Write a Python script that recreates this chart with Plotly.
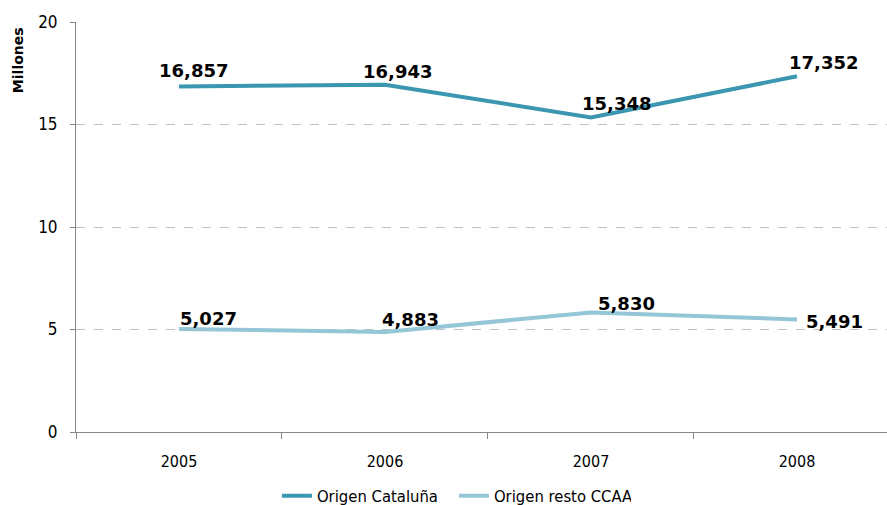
import plotly.graph_objects as go

years = ["2005", "2006", "2007", "2008"]
cataluna = [16.857, 16.943, 15.348, 17.352]
resto = [5.027, 4.883, 5.830, 5.491]
cat_labels = ["16,857", "16,943", "15,348", "17,352"]
resto_labels = ["5,027", "4,883", "5,830", "5,491"]
yticks = [0, 5, 10, 15, 20]

c1 = "#3B97B0"
c2 = "#94C6D8"
narrow = "Liberation Sans Narrow, DejaVu Sans Condensed, sans-serif"

fig = go.Figure()
fig.add_trace(go.Scatter(x=years, y=cataluna, mode="lines", name="Origen Cataluña",
                         line=dict(color=c1, width=4)))
fig.add_trace(go.Scatter(x=years, y=resto, mode="lines", name="Origen resto CCAA",
                         line=dict(color=c2, width=4)))

lab_font = dict(family="DejaVu Sans", size=18, color="#000000")
cat_shift = [(14, 16), (13, 13), (26, 14), (27, 14)]
resto_shift = [(29, 10), (26, 12), (36, 9), (38, -2)]
for i in range(len(years)):
    fig.add_annotation(x=i, y=cataluna[i], text="<b>" + cat_labels[i] + "</b>", showarrow=False,
                       xref="x", yref="y",
                       xshift=cat_shift[i][0], yshift=cat_shift[i][1], font=lab_font)
    fig.add_annotation(x=i, y=resto[i], text="<b>" + resto_labels[i] + "</b>", showarrow=False,
                       xref="x", yref="y",
                       xshift=resto_shift[i][0], yshift=resto_shift[i][1], font=lab_font)

fig.add_annotation(xref="paper", yref="paper", x=-0.0715, y=0.907, xanchor="center", yanchor="middle",
                   text="<b>Millones</b>", textangle=-90, showarrow=False,
                   font=dict(family="DejaVu Sans", size=14, color="#000"))

fig.update_layout(
    width=887, height=505,
    margin=dict(l=76, r=0, t=22, b=73, autoexpand=False),
    plot_bgcolor="white", paper_bgcolor="white",
    font=dict(family=narrow, size=16, color="#000"),
    showlegend=True,
    legend=dict(orientation="h", x=0.466, xanchor="center", y=-0.156, yanchor="middle",
                font=dict(family=narrow, size=16.5, color="#000"),
                itemwidth=30, tracegroupgap=0, entrywidth=132),
    xaxis=dict(type="category", range=[-0.5, 3.437], showgrid=False,
               showline=True, linecolor="#868686", linewidth=1,
               ticks="outside", tickson="boundaries", ticklen=6, tickcolor="#868686",
               ticklabelstandoff=15,
               tickfont=dict(family=narrow, size=16)),
    yaxis=dict(range=[0, 20], tickvals=yticks, showgrid=True, gridcolor="#BFBFBF",
               griddash="dash", gridwidth=1, zeroline=False,
               showline=True, linecolor="#868686", linewidth=1,
               ticks="outside", ticklen=5, tickcolor="#868686",
               ticklabelstandoff=9,
               tickfont=dict(family=narrow, size=17)),
)

fig.write_html("out.html", config={"displayModeBar": False},
               post_script="document.body.style.margin='0';document.body.style.overflow='hidden';")
